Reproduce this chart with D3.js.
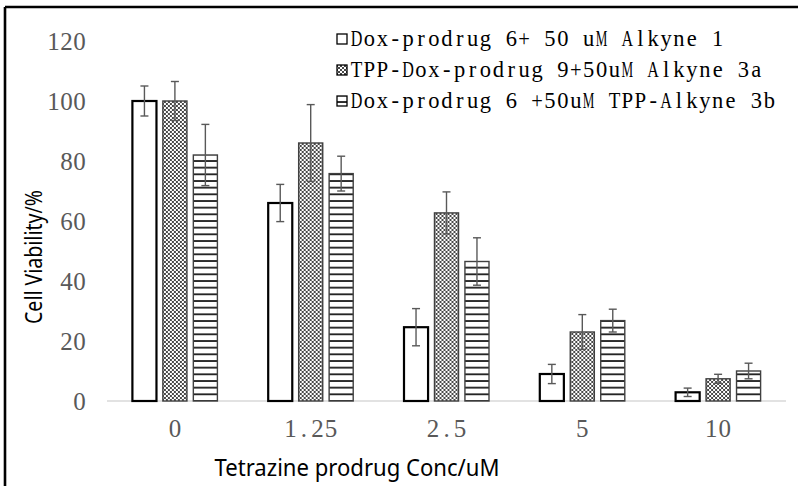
<!DOCTYPE html>
<html>
<head>
<meta charset="utf-8">
<script src="https://cdn.jsdelivr.net/npm/d3@7"></script>
<style>
  html, body { margin: 0; padding: 0; background: #fff; }
  svg { display: block; }
</style>
</head>
<body>
<svg id="chart" width="798" height="486"></svg>
<script>
// Concentrations of the tetrazine prodrug (x categories)
const categories = ["0", "1.25", "2.5", "5", "10"];
const tickLabels = ["0", "1.25", "2.5", "5", "10"];
const yTicks = [0, 20, 40, 60, 80, 100, 120];

// Series names (legend order)
const seriesNames = [
  "Dox-prodrug 6+ 50 uM Alkyne 1",
  "TPP-Dox-prodrug 9+50uM Alkyne 3a",
  "Dox-prodrug 6 +50uM TPP-Alkyne 3b"
];

// Mean cell viability (%) per concentration
const alkyne1Mean = [100, 66, 24.6, 9, 2.9];
const alkyne3aMean = [100, 86, 62.7, 23, 7.4];
const tppAlkyne3bMean = [82, 75.8, 46.5, 26.8, 10];

// Error (±) per concentration
const alkyne1Err = [5, 6.2, 6.2, 3.2, 1.4];
const alkyne3aErr = [6.5, 12.8, 7, 5.8, 1.5];
const tppAlkyne3bErr = [10.2, 5.8, 7.9, 3.8, 2.6];

const means = [alkyne1Mean, alkyne3aMean, tppAlkyne3bMean];
const errs = [alkyne1Err, alkyne3aErr, tppAlkyne3bErr];

const svg = d3.select("#chart");
const defs = svg.append("defs");

// Fill patterns: crosshatch and horizontal stripes
const cross = defs.append("pattern")
  .attr("id", "pat-cross").attr("patternUnits", "userSpaceOnUse")
  .attr("width", 4).attr("height", 4);
cross.append("rect").attr("width", 4).attr("height", 4).attr("fill", "#fff");
cross.append("path").attr("d", "M0,0L4,4M4,0L0,4M-1,3L1,5M3,-1L5,1M-1,1L1,-1M3,5L5,3")
  .attr("stroke", "#333").attr("stroke-width", 0.9);

const horiz = defs.append("pattern")
  .attr("id", "pat-horiz").attr("patternUnits", "userSpaceOnUse")
  .attr("width", 8).attr("height", 20 / 3);
horiz.append("rect").attr("width", 8).attr("height", 20 / 3).attr("fill", "#fff");
horiz.append("line").attr("x1", 0).attr("x2", 8).attr("y1", 1).attr("y2", 1)
  .attr("stroke", "#000").attr("stroke-width", 1.6);

const fills = ["#fff", "url(#pat-cross)", "url(#pat-horiz)"];
const strokes = ["#000", "#404040", "#404040"];
const strokeW = [2.2, 1.4, 1.4];

// Places each character of a label in its own fixed-width cell (half-width CJK look)
function fixedCells(sel, cell, anchor) {
  sel.each(function () {
    const t = d3.select(this);
    const str = t.text();
    const n = str.length;
    const x0 = anchor === "end" ? -n * cell : anchor === "middle" ? -n * cell / 2 : 0;
    const baseX = +t.attr("x") || 0;
    t.text(null).attr("text-anchor", "middle");
    for (let i = 0; i < n; i++) {
      t.append("tspan").attr("x", baseX + x0 + (i + 0.5) * cell).text(str[i]);
    }
  });
}

// Monospaced serif line: one glyph per cell, wide glyphs squeezed horizontally
function monoLine(g, str, cell, font, size) {
  const limit = cell * 0.9;
  for (let i = 0; i < str.length; i++) {
    if (str[i] === " ") continue;
    const cx = (i + 0.5) * cell;
    const t = g.append("text")
      .attr("text-anchor", "middle").attr("dy", "0.33em")
      .attr("font-family", font).attr("font-size", size).attr("fill", "#000")
      .text(str[i]);
    const w = t.node().getComputedTextLength();
    const sx = w > limit ? limit / w : 1;
    t.attr("transform", `translate(${cx},0) scale(${sx},1)`);
  }
}

// Scales
const x0 = d3.scaleBand().domain(categories).range([107, 786]).paddingInner(0).paddingOuter(0);
const x1 = d3.scaleBand().domain(d3.range(3)).range([-42.5, 42.5]).paddingInner(0.21).paddingOuter(0);
const y = d3.scaleLinear().domain([0, 120]).range([401, 41]);

// Outer frame (top and left edges)
svg.append("line").attr("x1", 5).attr("x2", 798).attr("y1", 7).attr("y2", 7)
  .attr("stroke", "#000").attr("stroke-width", 2.6);
svg.append("line").attr("x1", 5).attr("x2", 5).attr("y1", 7).attr("y2", 486)
  .attr("stroke", "#000").attr("stroke-width", 2.6);

// Baseline
svg.append("line").attr("x1", 107).attr("x2", 786).attr("y1", y(0)).attr("y2", y(0))
  .attr("stroke", "#d9d9d9").attr("stroke-width", 1.5);

// Y axis labels
const yAxis = d3.axisLeft(y).tickValues(yTicks).tickSize(0).tickPadding(0);
const gy = svg.append("g").attr("transform", "translate(86,0)").call(yAxis);
gy.select(".domain").remove();
gy.selectAll("text")
  .attr("font-family", "'Liberation Serif', 'DejaVu Serif', serif")
  .attr("font-size", 25).attr("fill", "#595959").attr("dy", "0.33em").attr("x", 0)
  .call(fixedCells, 13, "end");

// X axis labels
const xAxis = d3.axisBottom(x0).tickSize(0).tickPadding(0).tickFormat((d, i) => tickLabels[i]);
const gx = svg.append("g").attr("transform", "translate(0,437)").call(xAxis);
gx.select(".domain").remove();
gx.selectAll("text")
  .attr("font-family", "'Liberation Serif', 'DejaVu Serif', serif")
  .attr("font-size", 25).attr("fill", "#595959").attr("dy", "0").attr("y", 0).attr("x", 0)
  .call(fixedCells, 13.5, "middle");

// Bars
const groups = svg.append("g").selectAll("g").data(categories).join("g")
  .attr("transform", d => `translate(${x0(d) + x0.bandwidth() / 2},0)`);

groups.each(function (cat, ci) {
  const g = d3.select(this);
  for (let s = 0; s < 3; s++) {
    const v = means[s][ci];
    g.append("rect")
      .attr("x", x1(s)).attr("width", x1.bandwidth())
      .attr("y", y(v)).attr("height", y(0) - y(v))
      .attr("fill", fills[s]).attr("stroke", strokes[s]).attr("stroke-width", strokeW[s]);
  }
  for (let s = 0; s < 3; s++) {
    const v = means[s][ci], e = errs[s][ci];
    const cx = x1(s) + x1.bandwidth() / 2;
    const eb = g.append("g").attr("stroke", "#595959").attr("stroke-width", 1.4);
    eb.append("line").attr("x1", cx).attr("x2", cx).attr("y1", y(v + e)).attr("y2", y(v - e));
    eb.append("line").attr("x1", cx - 4).attr("x2", cx + 4).attr("y1", y(v + e)).attr("y2", y(v + e));
    eb.append("line").attr("x1", cx - 4).attr("x2", cx + 4).attr("y1", y(v - e)).attr("y2", y(v - e));
  }
});

// Axis titles
svg.append("text").attr("x", 357).attr("y", 476).attr("text-anchor", "middle")
  .attr("font-family", "'Noto Sans', sans-serif").attr("font-size", 23).attr("fill", "#000")
  .attr("textLength", 285).attr("lengthAdjust", "spacingAndGlyphs")
  .text("Tetrazine prodrug Conc/uM");
svg.append("text").attr("transform", "translate(42,257) rotate(-90)").attr("text-anchor", "middle")
  .attr("font-family", "'Noto Sans', sans-serif").attr("font-size", 23).attr("fill", "#000")
  .attr("textLength", 134).attr("lengthAdjust", "spacingAndGlyphs")
  .text("Cell Viability/%");

// Legend
const legendPitch = 12.9;
const legend = svg.append("g").selectAll("g").data(seriesNames).join("g")
  .attr("transform", (d, i) => `translate(337,${39 + i * 31})`);
legend.append("rect").attr("x", 0).attr("y", -5).attr("width", 10).attr("height", 10)
  .attr("fill", (d, i) => fills[i]).attr("stroke", "#000").attr("stroke-width", 1.3);
legend.each(function (d) {
  const label = d3.select(this).append("g").attr("transform", "translate(13,0)");
  monoLine(label, d, legendPitch, "'Liberation Serif', 'DejaVu Serif', serif", 22.5);
});
</script>
</body>
</html>
